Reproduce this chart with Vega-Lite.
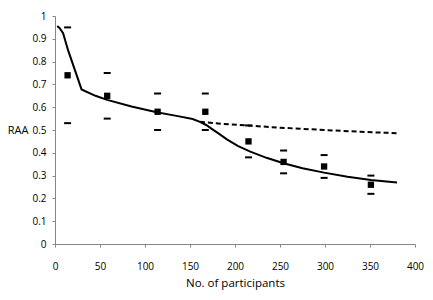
{
  "$schema": "https://vega.github.io/schema/vega-lite/v6.json",
  "width": 360,
  "height": 228,
  "autosize": {"type": "none"},
  "padding": {"left": 55, "top": 16, "right": 18, "bottom": 56},
  "background": "white",
  "config": {
    "view": {"stroke": null},
    "font": "Open Sans",
    "axis": {"grid": false, "domainColor": "#868686", "tickColor": "#868686", "labelColor": "#000000", "labelFont": "Open Sans", "labelFontSize": 10, "labelOverlap": false, "labelFlush": false, "titleFont": "Open Sans", "titleFontWeight": "normal", "titleColor": "#000000"}
  },
  "datasets": {
    "pts": [
      {"n": 14, "raa": 0.74, "hi": 0.95, "lo": 0.53},
      {"n": 58, "raa": 0.65, "hi": 0.75, "lo": 0.55},
      {"n": 114, "raa": 0.58, "hi": 0.66, "lo": 0.50},
      {"n": 167, "raa": 0.58, "hi": 0.66, "lo": 0.50},
      {"n": 215, "raa": 0.45, "hi": 0.52, "lo": 0.38},
      {"n": 254, "raa": 0.36, "hi": 0.41, "lo": 0.31},
      {"n": 299, "raa": 0.34, "hi": 0.39, "lo": 0.29},
      {"n": 351, "raa": 0.26, "hi": 0.30, "lo": 0.22}
    ],
    "solid": [
      {"n": 2.5, "v": 0.956},
      {"n": 5, "v": 0.948},
      {"n": 9, "v": 0.925},
      {"n": 14.5, "v": 0.85},
      {"n": 29.5, "v": 0.678},
      {"n": 45, "v": 0.65},
      {"n": 58, "v": 0.632},
      {"n": 85, "v": 0.603},
      {"n": 113, "v": 0.578},
      {"n": 135, "v": 0.562},
      {"n": 153, "v": 0.548},
      {"n": 161, "v": 0.536},
      {"n": 168, "v": 0.522},
      {"n": 175, "v": 0.503},
      {"n": 182, "v": 0.484},
      {"n": 191, "v": 0.459},
      {"n": 203, "v": 0.43},
      {"n": 217, "v": 0.405},
      {"n": 235, "v": 0.378},
      {"n": 254, "v": 0.354},
      {"n": 275, "v": 0.332},
      {"n": 299, "v": 0.313},
      {"n": 325, "v": 0.295},
      {"n": 351, "v": 0.281},
      {"n": 380, "v": 0.27}
    ],
    "dashed": [
      {"n": 161, "v": 0.536},
      {"n": 185, "v": 0.527},
      {"n": 217, "v": 0.519},
      {"n": 250, "v": 0.51},
      {"n": 299, "v": 0.5},
      {"n": 340, "v": 0.492},
      {"n": 380, "v": 0.486}
    ]
  },
  "encoding": {
    "x": {"field": "n", "type": "quantitative", "scale": {"domain": [0, 400]}, "axis": {"values": [0, 50, 100, 150, 200, 250, 300, 350, 400], "labelOverlap": false, "tickSize": 3, "labelPadding": 14, "title": "No. of participants", "titleFontSize": 11.5, "titlePadding": 6}}
  },
  "layer": [
    {
      "data": {"name": "solid"},
      "mark": {"type": "line", "color": "#000000", "strokeWidth": 2},
      "encoding": {
        "y": {"field": "v", "type": "quantitative", "scale": {"domain": [0, 1]}, "axis": {"values": [0, 0.1, 0.2, 0.3, 0.4, 0.5, 0.6, 0.7, 0.8, 0.9, 1], "labelOverlap": false, "tickSize": 3, "labelPadding": 6, "labelExpr": "datum.value == 1 ? '1' : datum.value == 0 ? '0' : format(datum.value, '.1f')", "title": "RAA", "titleAngle": 0, "titleAlign": "right", "titleBaseline": "middle", "titleX": -27, "titleY": 114, "titleFontSize": 11}}
      }
    },
    {
      "data": {"name": "dashed"},
      "mark": {"type": "line", "color": "#000000", "strokeWidth": 2, "strokeDash": [5, 3]},
      "encoding": {
        "y": {"field": "v", "type": "quantitative", "axis": {"values": [0, 0.1, 0.2, 0.3, 0.4, 0.5, 0.6, 0.7, 0.8, 0.9, 1], "labelOverlap": false, "tickSize": 3, "labelPadding": 6, "labelExpr": "datum.value == 1 ? '1' : datum.value == 0 ? '0' : format(datum.value, '.1f')", "title": "RAA", "titleAngle": 0, "titleAlign": "right", "titleBaseline": "middle", "titleX": -27, "titleY": 114, "titleFontSize": 11}}
      }
    },
    {
      "data": {"name": "pts"},
      "mark": {"type": "tick", "orient": "horizontal", "color": "#000000", "opacity": 1, "size": 7, "thickness": 2},
      "encoding": {
        "y": {"field": "hi", "type": "quantitative", "axis": {"values": [0, 0.1, 0.2, 0.3, 0.4, 0.5, 0.6, 0.7, 0.8, 0.9, 1], "labelOverlap": false, "tickSize": 3, "labelPadding": 6, "labelExpr": "datum.value == 1 ? '1' : datum.value == 0 ? '0' : format(datum.value, '.1f')", "title": "RAA", "titleAngle": 0, "titleAlign": "right", "titleBaseline": "middle", "titleX": -27, "titleY": 114, "titleFontSize": 11}}
      }
    },
    {
      "data": {"name": "pts"},
      "mark": {"type": "tick", "orient": "horizontal", "color": "#000000", "opacity": 1, "size": 7, "thickness": 2},
      "encoding": {
        "y": {"field": "lo", "type": "quantitative", "axis": {"values": [0, 0.1, 0.2, 0.3, 0.4, 0.5, 0.6, 0.7, 0.8, 0.9, 1], "labelOverlap": false, "tickSize": 3, "labelPadding": 6, "labelExpr": "datum.value == 1 ? '1' : datum.value == 0 ? '0' : format(datum.value, '.1f')", "title": "RAA", "titleAngle": 0, "titleAlign": "right", "titleBaseline": "middle", "titleX": -27, "titleY": 114, "titleFontSize": 11}}
      }
    },
    {
      "data": {"name": "pts"},
      "mark": {"type": "square", "color": "#000000", "filled": true, "opacity": 1, "size": 40},
      "encoding": {
        "y": {"field": "raa", "type": "quantitative", "axis": {"values": [0, 0.1, 0.2, 0.3, 0.4, 0.5, 0.6, 0.7, 0.8, 0.9, 1], "labelOverlap": false, "tickSize": 3, "labelPadding": 6, "labelExpr": "datum.value == 1 ? '1' : datum.value == 0 ? '0' : format(datum.value, '.1f')", "title": "RAA", "titleAngle": 0, "titleAlign": "right", "titleBaseline": "middle", "titleX": -27, "titleY": 114, "titleFontSize": 11}}
      }
    }
  ]
}
